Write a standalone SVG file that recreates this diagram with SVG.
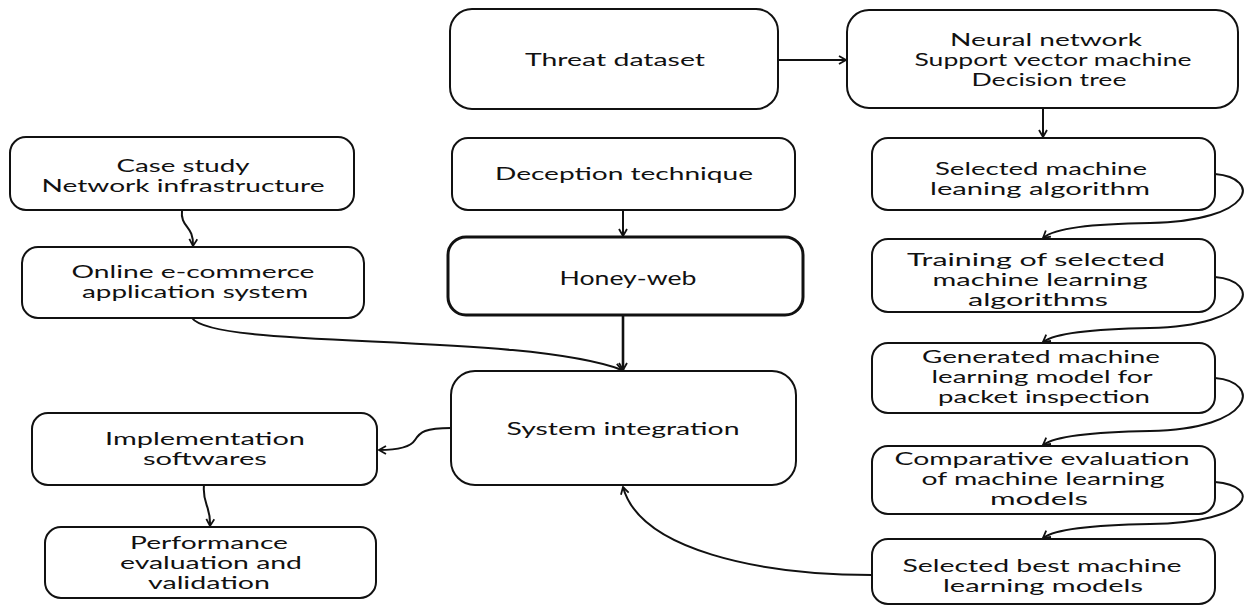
<svg xmlns="http://www.w3.org/2000/svg" width="1247" height="606" viewBox="0 0 1247 606">
<style>
.box{fill:#fff;stroke:#111;stroke-width:2}
.thick{stroke-width:3}
text{font-family:Lato,"Open Sans","Liberation Sans",sans-serif;font-size:18px;fill:#111;text-anchor:middle}
.big{font-size:20px}
.c{fill:none;stroke:#111;stroke-width:2}
.c3{stroke-width:2.6}
</style>
<defs>
<marker id="ah" markerWidth="10" markerHeight="10" refX="8" refY="5" orient="auto" markerUnits="userSpaceOnUse">
<path d="M1,1 L8,5 L1,9" fill="none" stroke="#111" stroke-width="1.8"/>
</marker>
</defs>
<rect width="1247" height="606" fill="#fff"/>
<g id="connectors">
<path class="c" d="M778,60 L846,60" marker-end="url(#ah)"/>
<path class="c" d="M1043,108 L1043,137" marker-end="url(#ah)"/>
<path class="c" d="M1215,174 C1262,178 1255,221 1150,223 C1090,224 1055,228 1043,238" marker-end="url(#ah)"/>
<path class="c" d="M1215,277 C1262,281 1255,326 1150,328 C1090,329 1055,333 1043,342" marker-end="url(#ah)"/>
<path class="c" d="M1215,378 C1262,382 1255,429 1150,431 C1090,432 1055,436 1043,445" marker-end="url(#ah)"/>
<path class="c" d="M1215,482 C1262,486 1255,522 1150,524 C1090,525 1055,529 1043,538" marker-end="url(#ah)"/>
<path class="c" d="M872,575 C760,575 640,550 623,487" marker-end="url(#ah)"/>
<path class="c" d="M182,210 C180,228 194,225 193,246" marker-end="url(#ah)"/>
<path class="c" d="M192,318 C215,350 520,332 622,370" marker-end="url(#ah)"/>
<path class="c" d="M623,210 L623,236" marker-end="url(#ah)"/>
<path class="c c3" d="M623,315 L623,370" marker-end="url(#ah)"/>
<path class="c" d="M451,428 C425,428 420,432 415,440 C410,448 395,450 379,450" marker-end="url(#ah)"/>
<path class="c" d="M204,485 C202,505 211,505 210,526" marker-end="url(#ah)"/>
</g>
<g id="threat"><rect class="box" x="450" y="9" width="328" height="100" rx="22"/><text x="615" y="66" textLength="180" lengthAdjust="spacingAndGlyphs">Threat dataset</text></g>
<g id="algorithms"><rect class="box" x="847" y="10" width="391" height="98" rx="22"/>
<text x="1046" y="46" textLength="192" lengthAdjust="spacingAndGlyphs">Neural network</text>
<text x="1053" y="66" textLength="277" lengthAdjust="spacingAndGlyphs">Support vector machine</text>
<text x="1049" y="86" textLength="155" lengthAdjust="spacingAndGlyphs">Decision tree</text></g>
<g id="selected"><rect class="box" x="872" y="138" width="343" height="72" rx="16"/>
<text x="1041" y="175" textLength="212" lengthAdjust="spacingAndGlyphs">Selected machine</text>
<text x="1040" y="195" textLength="220" lengthAdjust="spacingAndGlyphs">leaning algorithm</text></g>
<g id="training"><rect class="box" x="872" y="239" width="343" height="73" rx="16"/>
<text x="1036" y="266" textLength="258" lengthAdjust="spacingAndGlyphs">Training of selected</text>
<text x="1040" y="286" textLength="215" lengthAdjust="spacingAndGlyphs">machine learning</text>
<text x="1038" y="306" textLength="140" lengthAdjust="spacingAndGlyphs">algorithms</text></g>
<g id="generated"><rect class="box" x="872" y="343" width="343" height="70" rx="16"/>
<text x="1041" y="363" textLength="238" lengthAdjust="spacingAndGlyphs">Generated machine</text>
<text x="1042" y="383" textLength="221" lengthAdjust="spacingAndGlyphs">learning model for</text>
<text x="1044" y="403" textLength="212" lengthAdjust="spacingAndGlyphs">packet inspection</text></g>
<g id="comparative"><rect class="box" x="872" y="446" width="343" height="68" rx="16"/>
<text x="1042" y="465" textLength="295" lengthAdjust="spacingAndGlyphs">Comparative evaluation</text>
<text x="1043" y="485" textLength="243" lengthAdjust="spacingAndGlyphs">of machine learning</text>
<text x="1039" y="505" textLength="98" lengthAdjust="spacingAndGlyphs">models</text></g>
<g id="best"><rect class="box" x="872" y="539" width="343" height="65" rx="16"/>
<text x="1042" y="572" textLength="279" lengthAdjust="spacingAndGlyphs">Selected best machine</text>
<text x="1043" y="592" textLength="200" lengthAdjust="spacingAndGlyphs">learning models</text></g>
<g id="case"><rect class="box" x="10" y="137" width="344" height="73" rx="16"/>
<text x="183" y="172" textLength="133" lengthAdjust="spacingAndGlyphs">Case study</text>
<text x="183" y="192" textLength="283" lengthAdjust="spacingAndGlyphs">Network infrastructure</text></g>
<g id="online"><rect class="box" x="22" y="247" width="342" height="71" rx="16"/>
<text x="193" y="278" textLength="243" lengthAdjust="spacingAndGlyphs">Online e-commerce</text>
<text x="195" y="298" textLength="226" lengthAdjust="spacingAndGlyphs">application system</text></g>
<g id="deception"><rect class="box" x="452" y="138" width="343" height="72" rx="16"/>
<text x="624" y="180" textLength="258" lengthAdjust="spacingAndGlyphs">Deception technique</text></g>
<g id="honeyweb"><rect class="box thick" x="448" y="237" width="355" height="78" rx="18"/>
<text class="big" x="628" y="285" textLength="137" lengthAdjust="spacingAndGlyphs">Honey-web</text></g>
<g id="integration"><rect class="box" x="451" y="371" width="345" height="114" rx="24"/>
<text x="623" y="435" textLength="233" lengthAdjust="spacingAndGlyphs">System integration</text></g>
<g id="implementation"><rect class="box" x="32" y="413" width="345" height="72" rx="16"/>
<text x="205" y="445" textLength="200" lengthAdjust="spacingAndGlyphs">Implementation</text>
<text x="205" y="465" textLength="124" lengthAdjust="spacingAndGlyphs">softwares</text></g>
<g id="performance"><rect class="box" x="45" y="527" width="331" height="71" rx="16"/>
<text x="209" y="549" textLength="158" lengthAdjust="spacingAndGlyphs">Performance</text>
<text x="211" y="569" textLength="182" lengthAdjust="spacingAndGlyphs">evaluation and</text>
<text x="209" y="589" textLength="122" lengthAdjust="spacingAndGlyphs">validation</text></g>
</svg>
